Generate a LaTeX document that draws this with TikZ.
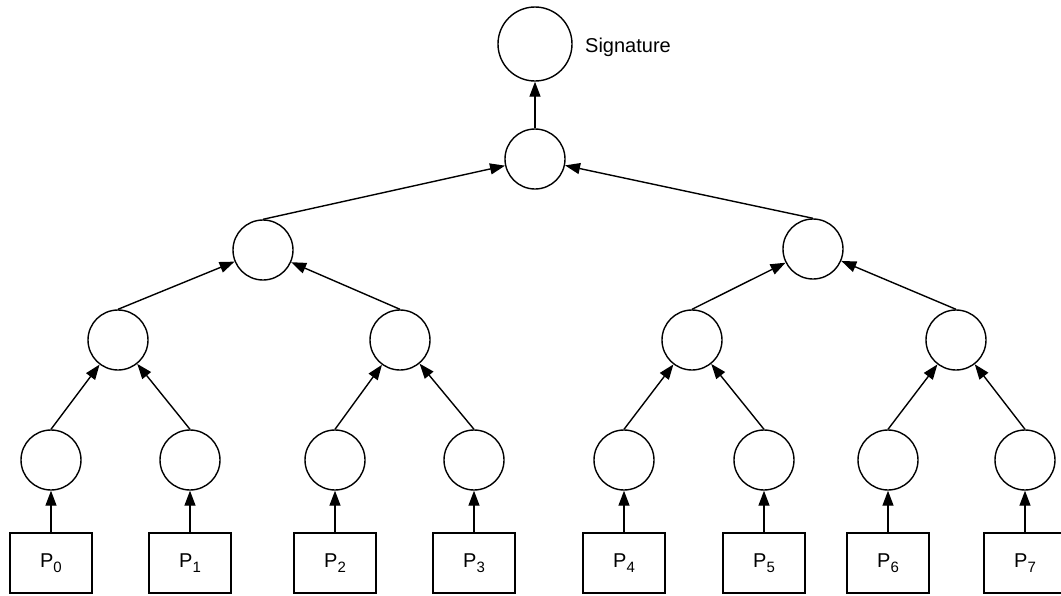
\documentclass[tikz,border=0pt]{standalone}
\usepackage{fontspec}
\setmainfont{Liberation Sans}
\usetikzlibrary{arrows.meta}

\tikzset{
  hnode/.style={draw, circle, minimum size=60pt, inner sep=0pt, line width=1.4pt},
  pbox/.style={draw, rectangle, minimum width=82pt, minimum height=60pt, inner sep=0pt,
    line width=1.4pt, font=\fontsize{20}{24}\selectfont},
  up/.style={-{Triangle[length=15pt,width=11pt]}, line width=1.4pt}
}
% P with a lowered index
\newcommand{\proc}[1]{P\raisebox{-5pt}{\fontsize{15}{15}\selectfont #1}}

\begin{document}
\begin{tikzpicture}[x=1pt,y=-1pt]
\useasboundingbox (0,0) rectangle (1061,595);
% Leaves and the blocks P_i under them
\foreach \x [count=\i from 0] in {51,190,335,474,624,764,888,1025}
{
  \draw (\x,460) node[hnode] (l\i) {};
  \draw (\x,563) node[pbox] (p\i) {\proc{\i}};
  \draw[up] (p\i.north) -- (l\i);
}
% Second row
\foreach \x [count=\i from 0] in {118,400,692,956}
{
  \draw (\x,340) node[hnode] (m\i) {};
}
\draw[up] (l0.north) -- (m0);
\draw[up] (l1.north) -- (m0);
\draw[up] (l2.north) -- (m1);
\draw[up] (l3.north) -- (m1);
\draw[up] (l4.north) -- (m2);
\draw[up] (l5.north) -- (m2);
\draw[up] (l6.north) -- (m3);
\draw[up] (l7.north) -- (m3);
% Third row
\draw (263,250) node[hnode] (q0) {};
\draw (813,249) node[hnode] (q1) {};
\draw[up] (m0.north) -- (q0);
\draw[up] (m1.north) -- (q0);
\draw[up] (m2.north) -- (q1);
\draw[up] (m3.north) -- (q1);
% Root and the signature on top of it
\draw (535,159) node[hnode] (r) {};
\draw[up] (q0.north) -- (r);
\draw[up] (q1.north) -- (r);
\draw (535,44) node[hnode, minimum size=74pt] (sig) {};
\draw[up] (r.north) -- (sig);
\node (sigtext) at (585,52) [anchor=base west, inner sep=0pt, font=\fontsize{20}{24}\selectfont] {Signature};
\end{tikzpicture}
\end{document}
